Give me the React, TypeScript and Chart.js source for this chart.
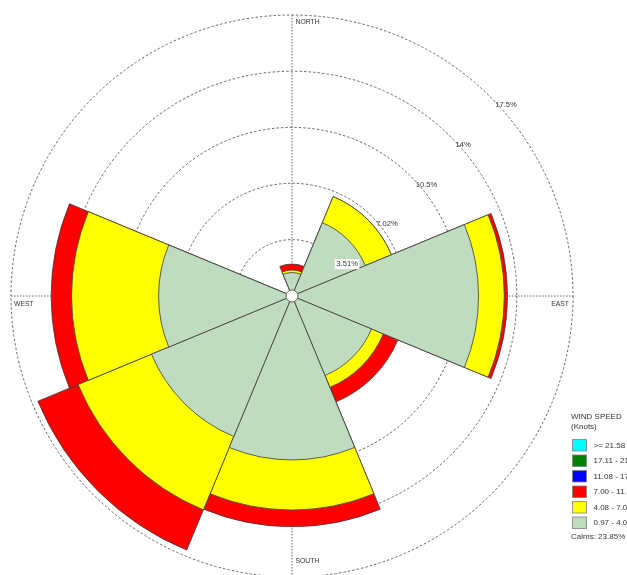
import React, { useEffect, useRef } from 'react';
import { Chart, registerables } from 'chart.js';
Chart.register(...registerables);

const directions = ['N', 'NE', 'E', 'SE', 'S', 'SW', 'W', 'NW'];
const band1 = [1.46, 4.94, 11.62, 5.36, 10.21, 9.47, 8.31, 0];
const band2 = [0.16, 1.76, 1.6, 0.8, 3.12, 4.95, 5.42, 0];
const band3 = [0.37, 0, 0.2, 0.98, 1.04, 2.71, 1.27, 0];
const bandColors = ['#c0dcc0', '#ffff00', '#ff0000'];
const bandNames = ['0.97 - 4.08', '4.08 - 7.00', '7.00 - 11.08'];
const ringValues = [0, 3.51, 7.02, 10.5, 14, 17.5];
const ringLabels = ['', '3.51%', '7.02%', '10.5%', '14%', '17.5%'];
const axisLabels = ['NORTH', 'EAST', 'SOUTH', 'WEST'];
const legendTitle = ['WIND SPEED', '(Knots)'];
const legendLabels = ['>= 21.58', '17.11 - 21.58', '11.08 - 17.11', '7.00 - 11.08', '4.08 - 7.00', '0.97 - 4.08'];
const legendColors = ['#00ffff', '#008000', '#0000ff', '#ff0000', '#ffff00', '#c0dcc0'];
const calmsText = 'Calms: 23.85%';

const FONT = '"Liberation Sans", Arial, sans-serif';

const roseDecor = {
  id: 'roseDecor',
  beforeDatasetsDraw(chart: any) {
    const s = chart.scales.r;
    const ctx = chart.ctx;
    const cx = s.xCenter, cy = s.yCenter;
    const R = s.getDistanceFromCenterForValue(ringValues[ringValues.length - 1]);
    ctx.save();
    ctx.strokeStyle = '#555';
    ctx.lineWidth = 0.9;
    ctx.setLineDash([1.5, 1.5]);
    ctx.beginPath();
    ctx.moveTo(cx, cy - R); ctx.lineTo(cx, cy + R);
    ctx.moveTo(cx - R, cy); ctx.lineTo(cx + R, cy);
    ctx.stroke();
    ctx.setLineDash([]);
    ctx.fillStyle = '#333';
    ctx.font = '6.8px ' + FONT;
    ctx.textBaseline = 'middle';
    ctx.textAlign = 'left';
    ctx.fillText(axisLabels[0], cx + 3.5, cy - R + 7);
    ctx.fillText(axisLabels[2], cx + 3.5, cy + R - 16);
    ctx.fillText(axisLabels[3], cx - R + 3, cy + 8);
    ctx.textAlign = 'right';
    ctx.fillText(axisLabels[1], cx + R - 4, cy + 8);
    ctx.restore();
  },
  afterDatasetsDraw(chart: any) {
    const s = chart.scales.r;
    const ctx = chart.ctx;
    const cx = s.xCenter, cy = s.yCenter;
    ctx.save();
    // calm circle
    ctx.beginPath();
    ctx.arc(cx, cy, 6, 0, Math.PI * 2);
    ctx.fillStyle = '#fff';
    ctx.fill();
    ctx.strokeStyle = '#444';
    ctx.lineWidth = 0.8;
    ctx.stroke();
    // ring labels
    ctx.font = '7.6px ' + FONT;
    ctx.textBaseline = 'middle';
    ctx.textAlign = 'left';
    ringValues.forEach((v, i) => {
      if (!ringLabels[i]) return;
      const r = s.getDistanceFromCenterForValue(v);
      const x = cx + r * Math.SQRT1_2 + 4.5;
      const y = cy - r * Math.SQRT1_2 + 8;
      const w = ctx.measureText(ringLabels[i]).width;
      if (i === 1) {
        ctx.fillStyle = '#fff';
        ctx.fillRect(x - 1.5, y - 5, w + 3, 10);
      }
      ctx.fillStyle = '#333';
      ctx.fillText(ringLabels[i], x, y);
    });
    ctx.restore();
  },
  afterDraw(chart: any) {
    const ctx = chart.ctx;
    ctx.save();
    ctx.fillStyle = '#333';
    ctx.font = '8px ' + FONT;
    ctx.textBaseline = 'middle';
    ctx.textAlign = 'left';
    ctx.fillText(legendTitle[0], 571, 417);
    ctx.fillText(legendTitle[1], 571, 427);
    legendLabels.forEach((lab, i) => {
      const top = 439.5 + i * 15.5;
      ctx.fillStyle = legendColors[i];
      ctx.fillRect(572.5, top, 14, 11.5);
      ctx.strokeStyle = '#808080';
      ctx.lineWidth = 0.8;
      ctx.strokeRect(572.5, top, 14, 11.5);
      ctx.fillStyle = '#333';
      ctx.fillText(lab, 593.5, top + 6);
    });
    ctx.fillText(calmsText, 571, 537);
    ctx.restore();
  },
};

export default function App() {
  const ref = useRef<HTMLCanvasElement>(null);
  useEffect(() => {
    const cum1 = band1.slice();
    const cum2 = band1.map((v, i) => v + band2[i]);
    const cum3 = cum2.map((v, i) => v + band3[i]);
    const chart = new Chart(ref.current as HTMLCanvasElement, {
      type: 'polarArea',
      data: {
        labels: directions,
        datasets: [
          { label: bandNames[0], data: cum1, backgroundColor: bandColors[0], borderColor: '#3c3c3c', borderWidth: 0.8 },
          { label: bandNames[1], data: cum2, backgroundColor: bandColors[1], borderColor: '#3c3c3c', borderWidth: 0.8 },
          { label: bandNames[2], data: cum3, backgroundColor: bandColors[2], borderColor: '#3c3c3c', borderWidth: 0.8 },
        ],
      },
      options: {
        animation: false,
        responsive: false,
        events: [],
        layout: { padding: { left: 11.5, top: 15, right: 53.5, bottom: 23 } },
        plugins: { legend: { display: false }, tooltip: { enabled: false } },
        scales: {
          r: {
            min: 0,
            max: 17.5,
            startAngle: -22.5,
            afterBuildTicks: (scale: any) => {
              scale.ticks = ringValues.map((v) => ({ value: v }));
            },
            ticks: { display: false },
            grid: { color: '#555', lineWidth: 0.9, circular: true },
            border: { dash: [2.5, 2] },
            angleLines: { display: false },
            pointLabels: { display: false },
          },
        },
      } as any,
      plugins: [roseDecor],
    });
    return () => chart.destroy();
  }, []);
  return (
    <div style={{ position: 'fixed', left: 0, top: 0, width: 627, height: 575, overflow: 'hidden', background: '#fff' }}>
      <canvas ref={ref} width={627} height={600} style={{ position: 'absolute', left: 0, top: 0, width: 627, height: 600 }} />
    </div>
  );
}
